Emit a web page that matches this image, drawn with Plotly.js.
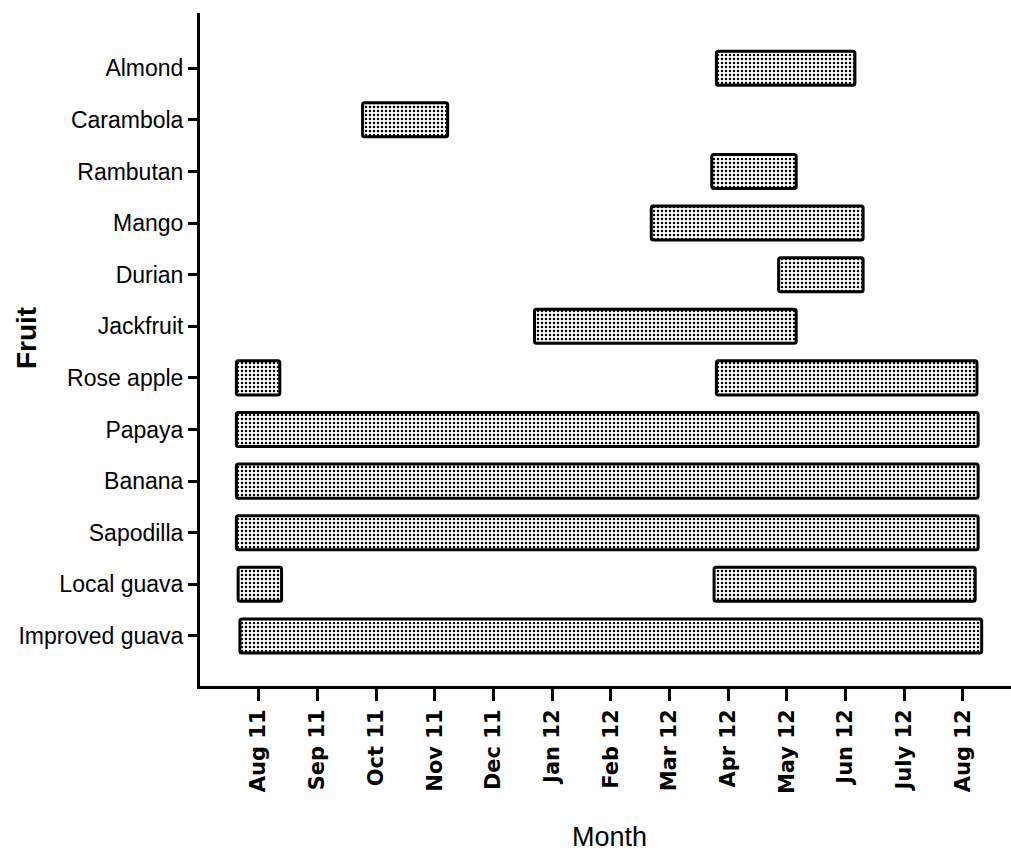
<!DOCTYPE html>
<html>
<head>
<meta charset="utf-8">
<script src="https://cdn.plot.ly/plotly-3.0.1.min.js"></script>
<style>
  html, body { margin: 0; padding: 0; background: #ffffff; }
  #chart { width: 1011px; height: 854px; }
</style>
</head>
<body>
<div id="chart"></div>
<script>
// Month tick labels (index 0 = Aug 2011)
const monthLabels = ['Aug 11','Sep 11','Oct 11','Nov 11','Dec 11','Jan 12','Feb 12','Mar 12','Apr 12','May 12','Jun 12','July 12','Aug 12'];
const monthIndex = [0,1,2,3,4,5,6,7,8,9,10,11,12];

// Fruit categories, top to bottom as displayed
const fruitOrder = ['Almond','Carambola','Rambutan','Mango','Durian','Jackfruit','Rose apple','Papaya','Banana','Sapodilla','Local guava','Improved guava'];

// Availability periods (in months relative to Aug 2011)
const periodFruit = ['Almond','Carambola','Rambutan','Mango','Durian','Jackfruit','Rose apple','Rose apple','Papaya','Banana','Sapodilla','Local guava','Local guava','Improved guava'];
const periodStart = [7.80, 1.77, 7.72, 6.69, 8.86, 4.70, -0.38, 7.80, -0.38, -0.38, -0.38, -0.35, 7.76, -0.32];
const periodEnd   = [10.16, 3.22, 9.16, 10.30, 10.30, 9.16, 0.36, 12.24, 12.26, 12.26, 12.26, 0.39, 12.21, 12.32];

const durations = periodStart.map((s, i) => periodEnd[i] - s);

const trace = {
  type: 'bar',
  orientation: 'h',
  y: periodFruit,
  x: durations,
  base: periodStart,
  width: 0.66,
  marker: {
    color: '#ffffff',
    line: { color: '#000000', width: 3 },
    pattern: { shape: '.', fgcolor: '#000000', bgcolor: '#ffffff', size: 4, solidity: 0.3 },
    cornerradius: 2
  },
  hoverinfo: 'skip',
  showlegend: false
};

const layout = {
  width: 1011,
  height: 854,
  paper_bgcolor: '#ffffff',
  plot_bgcolor: '#ffffff',
  margin: { l: 200, r: 0, t: 13, b: 168 },
  font: { family: 'Liberation Sans, Arial, sans-serif', color: '#000000' },
  xaxis: {
    range: [-1.0, 12.82],
    tickmode: 'array',
    tickvals: monthIndex,
    ticktext: monthLabels,
    tickangle: -90,
    ticks: 'outside',
    ticklen: 12,
    tickwidth: 3,
    tickcolor: '#000000',
    showline: true,
    linewidth: 3,
    linecolor: '#000000',
    showgrid: false,
    zeroline: false,
    tickfont: { family: 'DejaVu Sans, sans-serif', size: 21, color: '#000000', weight: 'bold' },
    fixedrange: true
  },
  yaxis: {
    type: 'category',
    categoryorder: 'array',
    categoryarray: fruitOrder.slice().reverse(),
    range: [-0.97, 12.07],
    ticks: 'outside',
    ticklen: 9,
    tickwidth: 3,
    tickcolor: '#000000',
    showline: true,
    linewidth: 3,
    linecolor: '#000000',
    showgrid: false,
    zeroline: false,
    tickfont: { family: 'Liberation Sans, Arial, sans-serif', size: 23, color: '#000000' },
    fixedrange: true
  },
  annotations: [
    {
      text: 'Fruit',
      xref: 'paper', yref: 'paper',
      x: -0.2145, y: 0.517,
      xanchor: 'center', yanchor: 'middle',
      textangle: -90,
      showarrow: false,
      font: { family: 'Liberation Sans, Arial, sans-serif', size: 28, color: '#000000', weight: 'bold' }
    },
    {
      text: 'Month',
      xref: 'paper', yref: 'paper',
      x: 0.505, y: -0.225,
      xanchor: 'center', yanchor: 'middle',
      showarrow: false,
      font: { family: 'Liberation Sans, Arial, sans-serif', size: 27, color: '#000000' }
    }
  ]
};

Plotly.newPlot('chart', [trace], layout, { displayModeBar: false, staticPlot: true });
</script>
</body>
</html>
